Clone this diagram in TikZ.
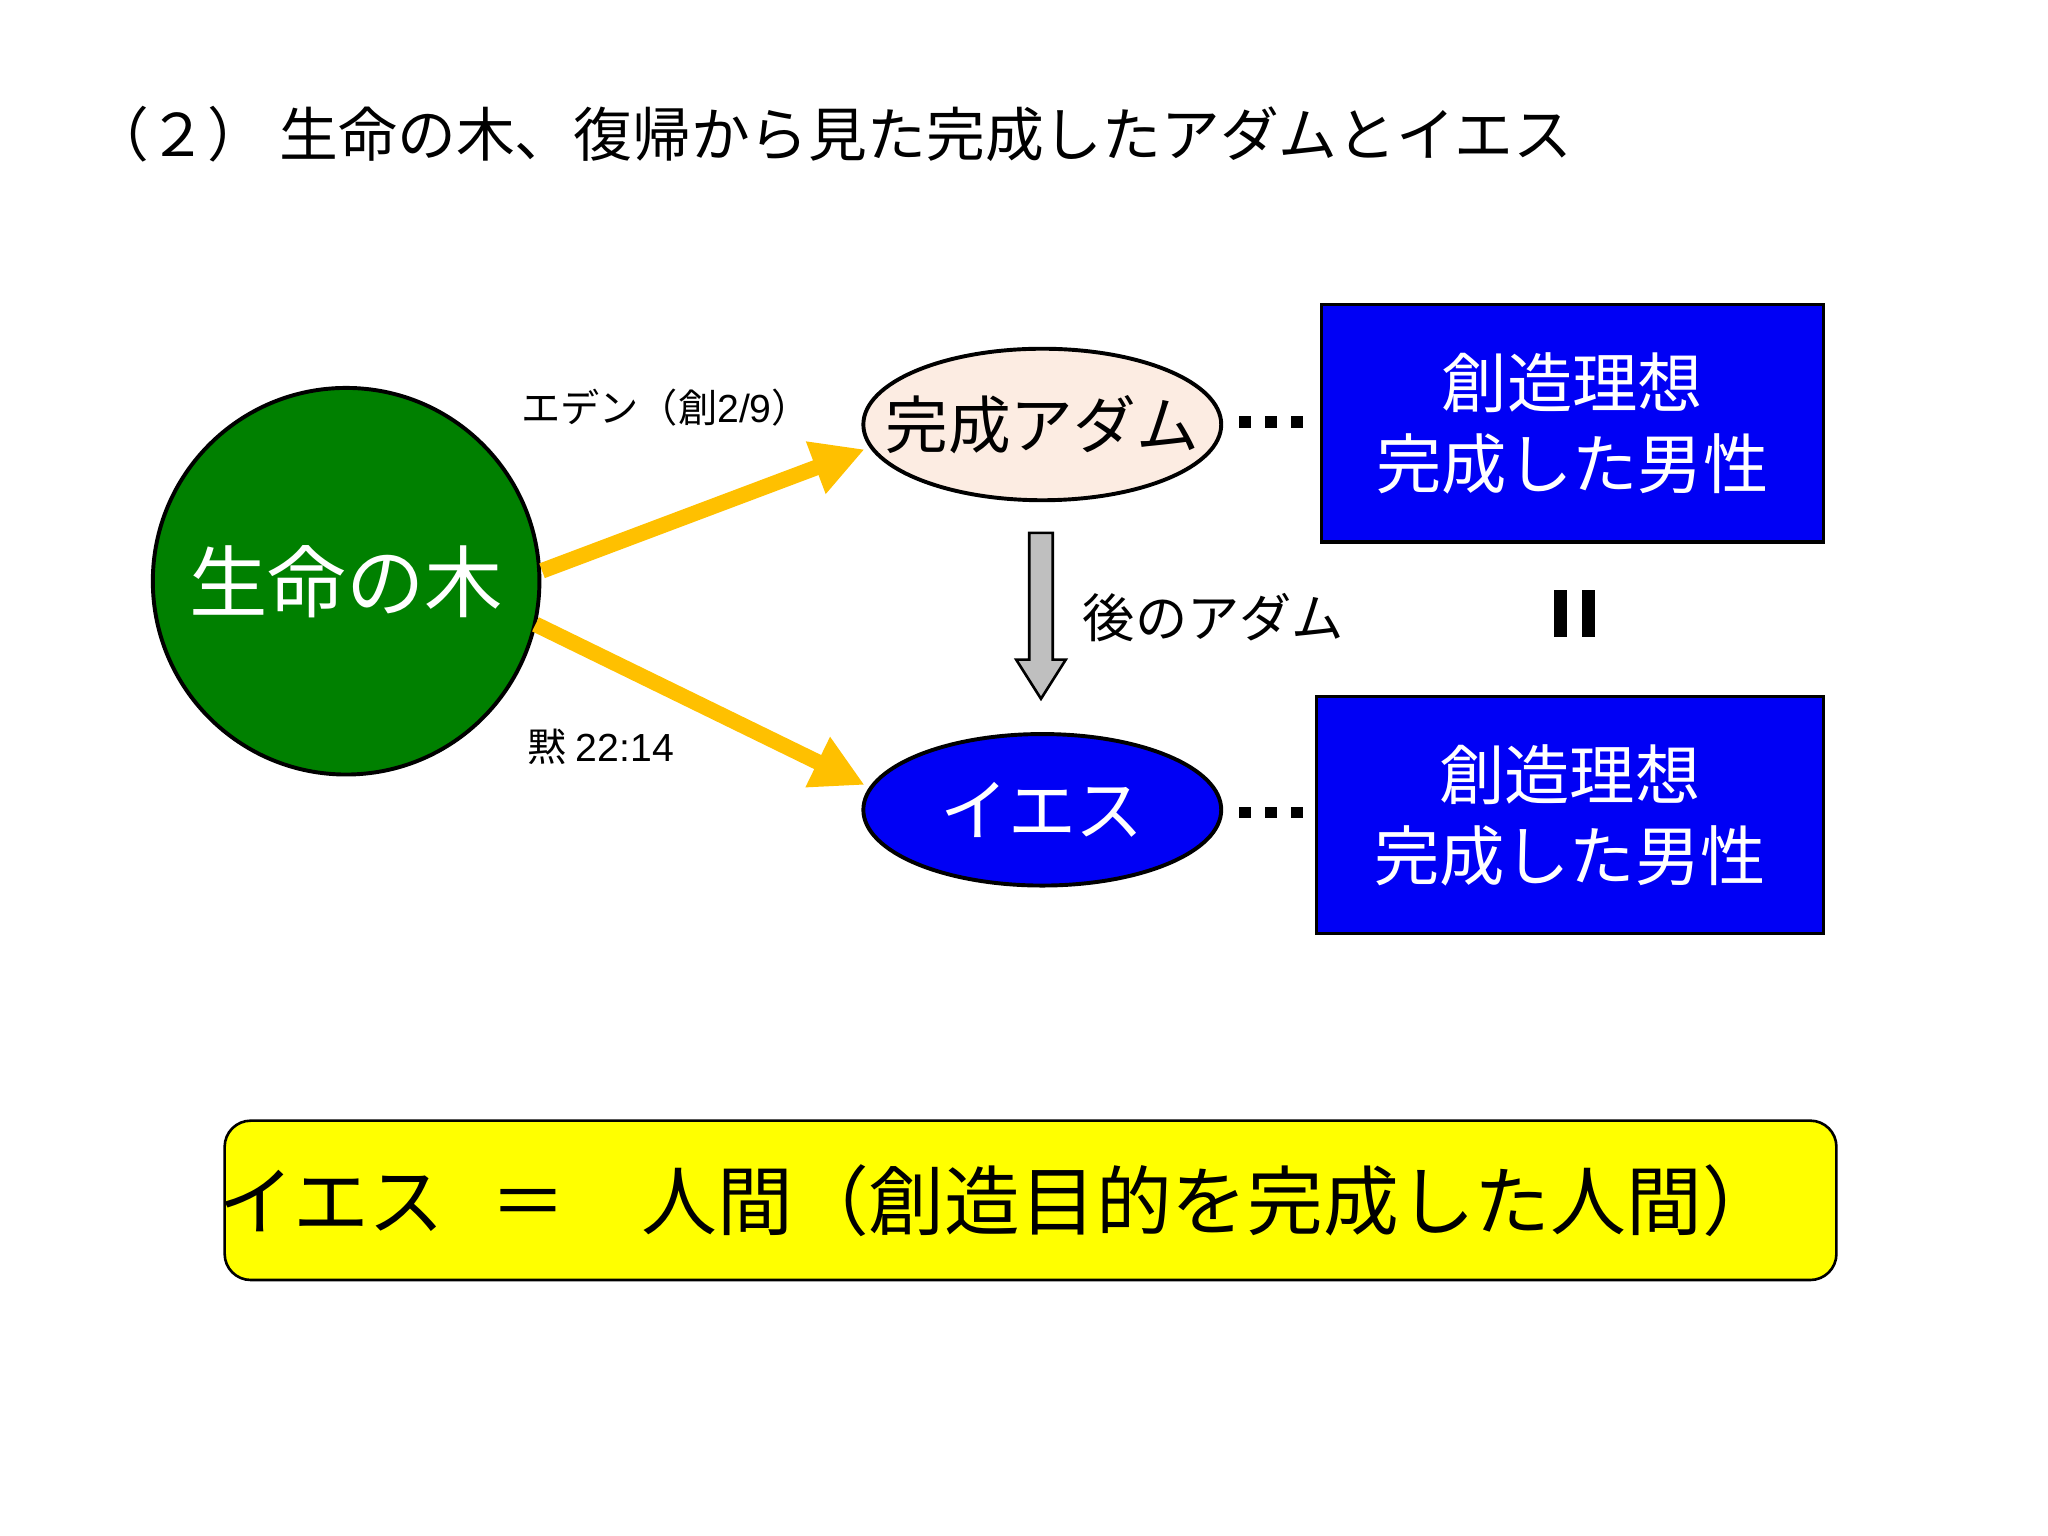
\documentclass[tikz,border=0pt]{standalone}
\usepackage{fontspec}
\setmainfont{Noto Sans CJK JP}
\newfontfamily\lat{Liberation Sans}
\usetikzlibrary{shapes.geometric,arrows.meta}
\definecolor{gr}{RGB}{0,128,0}
\definecolor{bl}{RGB}{0,0,245}
\definecolor{pk}{RGB}{252,236,226}
\definecolor{og}{RGB}{255,192,0}
\definecolor{yl}{RGB}{255,255,0}
\tikzset{
 ell/.style={ellipse,draw=black,line width=1.5pt,minimum width=137pt,minimum height=58pt,inner sep=0pt},
 bbox/.style={draw=black,line width=1.2pt,fill=bl,text=white,align=center,font=\fontsize{25}{31}\selectfont,inner sep=0pt},
 oarr/.style={og,line width=6pt,-{Triangle[length=20pt,width=20pt]}},
 lbl/.style={font=\fontsize{15}{18}\selectfont}
}
\begin{document}
\begin{tikzpicture}[x=0.5pt,y=-0.5pt]
\useasboundingbox (0,0) rectangle (1568,1176);
\node[anchor=west,font=\fontsize{22.5}{26}\selectfont] (title) at (62,103) {（２） 生命の木、復帰から見た完成したアダムとイエス};
\node[circle,draw=black,line width=1.5pt,fill=gr,minimum size=148pt,inner sep=0pt] (tree) at (265,445) {};
\node[text=white,font=\fontsize{30}{36}\selectfont] (treet) at (tree.center) {生命の木};
\node[ell,fill=pk] (adam) at (798,325) {};
\node[font=\fontsize{24}{30}\selectfont] (adamt) at (adam.center) {完成アダム};
\node[ell,fill=bl] (jesus) at (798,620) {};
\node[text=white,font=\fontsize{26}{30}\selectfont] (jesust) at (jesus.center) {イエス};
\node[bbox,minimum width=192pt,minimum height=91pt] (b1) at (1204,324) {創造理想\\完成した男性};
\node[bbox,minimum width=194pt,minimum height=91pt] (b2) at (1202,624) {創造理想\\完成した男性};
\coordinate (t1) at (415,437); \coordinate (t2) at (410,478);
\coordinate (e1) at (662,344); \coordinate (e2) at (662,601);
\draw[oarr] (t1) -- (e1);
\draw[oarr] (t2) -- (e2);
\node[lbl] (l1) at (510,312) {エデン（創{\lat 2/9}）};
\node[lbl] (l2) at (460,572) {黙 {\lat 22:14}};
\foreach \y in {323,622}{\foreach \x in {953,973,993}{\fill (\x-4.5,\y-4.5) rectangle (\x+4.5,\y+4.5);}}
\fill (1190,452) rectangle (1200,488); \fill (1211,452) rectangle (1221,488);
\draw[fill=black!25,line width=1pt] (788,408) -- (806,408) -- (806,505) -- (816,505) -- (797,535) -- (778,505) -- (788,505) -- cycle;
\node[anchor=west,font=\fontsize{20}{24}\selectfont] (later) at (822,473) {後のアダム};
\node[draw=black,line width=1pt,fill=yl,rounded corners=10pt,minimum width=617pt,minimum height=61pt] (yb) at (789,919) {};
\node[anchor=west,font=\fontsize{29}{34}\selectfont] (yt) at (160,919) {イエス\hspace{0.6em}＝\hspace{1em}人間（創造目的を完成した人間）};
\end{tikzpicture}
\end{document}
